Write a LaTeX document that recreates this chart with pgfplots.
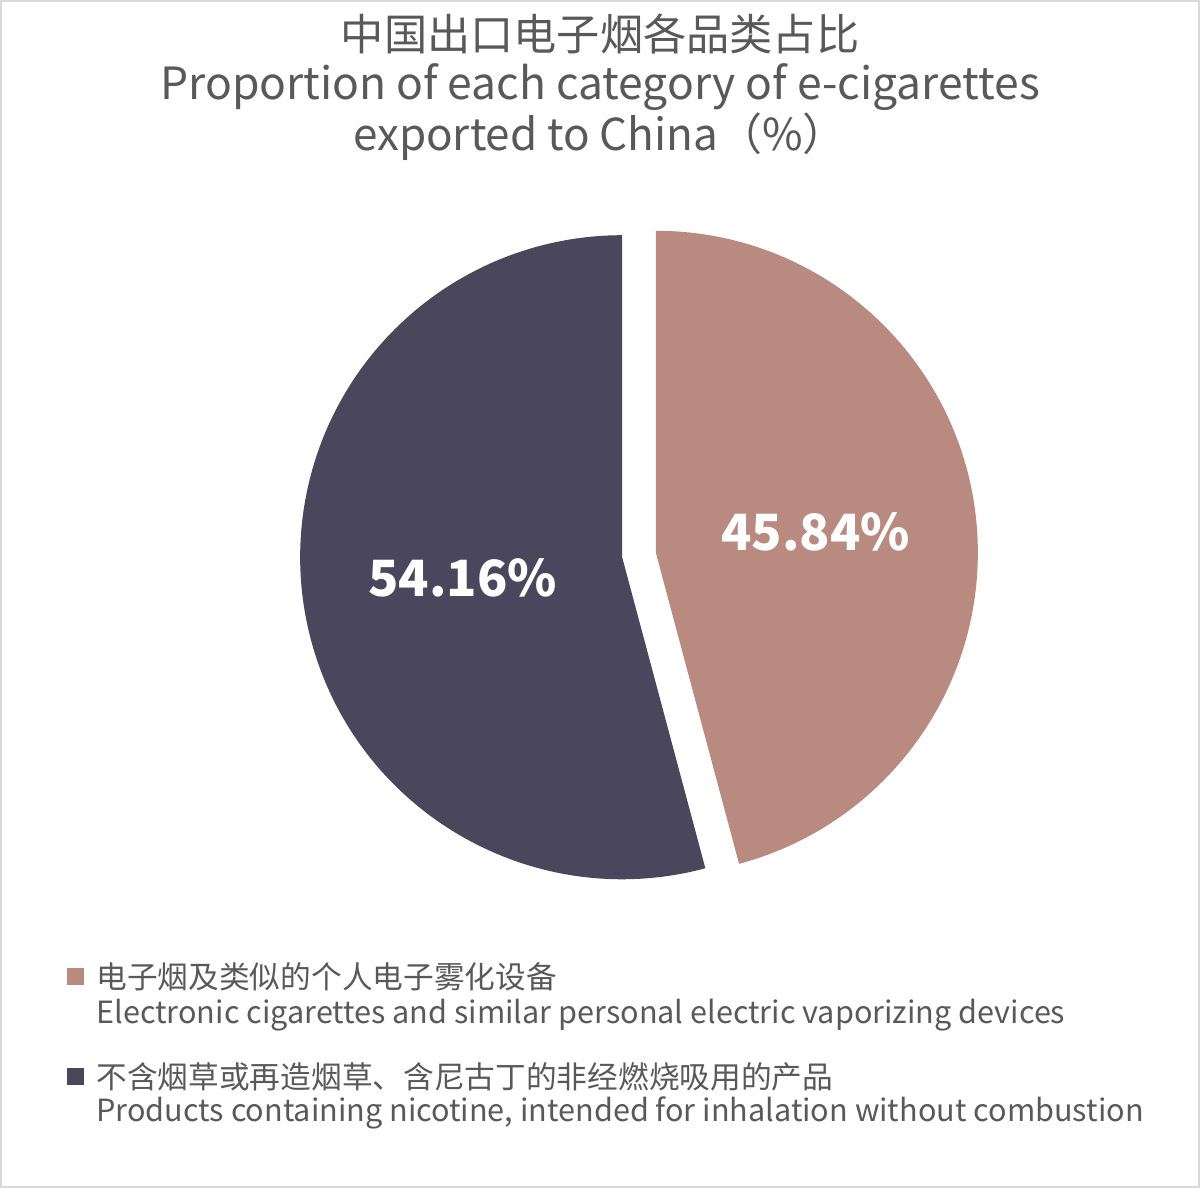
\documentclass[border=0pt]{standalone}
\usepackage{pgfplots}
\pgfplotsset{compat=1.18}
\usepackage{pgfplotstable}
\usepackage{fontspec}
\usetikzlibrary{calc}
\setmainfont{Noto Sans CJK SC}

\definecolor{slicepink}{HTML}{B98A80}
\definecolor{slicedark}{HTML}{4A465B}
\definecolor{txtgray}{HTML}{595959}
\definecolor{framegray}{HTML}{D9D9D9}

% share of each category (%)
\pgfplotstableread{
idx value
0 45.84
1 54.16
}\sharetable

\begin{document}
\begin{tikzpicture}[x=1pt,y=1pt]
\path[use as bounding box] (0,0) rectangle (600,594);
\draw[framegray, line width=1pt] (0.5,0.5) rectangle (599.5,593.5);

% title
\node[txtgray, font=\fontsize{21.6}{24}\selectfont] at (300,577) {中国出口电子烟各品类占比};
\node[txtgray, font=\fontsize{22.2}{24}\selectfont] at (300,550.5) {Proportion of each category of e-cigarettes};
\node[txtgray, font=\fontsize{22}{24}\selectfont] at (300,525.5) {exported to China（\%）};

\pgfplotstablegetelem{0}{value}\of\sharetable \let\valA\pgfplotsretval
\pgfplotstablegetelem{1}{value}\of\sharetable \let\valB\pgfplotsretval
\pgfmathsetmacro\angA{90-3.6*\valA}
\pgfmathsetmacro\midA{90-1.8*\valA}
\pgfmathsetmacro\midB{\angA-1.8*\valB}

\begin{axis}[at={(319.5pt,316.5pt)}, anchor=origin, x=161pt, y=161pt,
  xmin=-1.1, xmax=1.1, ymin=-1.1, ymax=1.1, hide axis, clip=false]
  \fill[slicepink] ($(axis cs:0,0)+(\midA:8.5pt)$) -- ++(90:161pt)
    arc[start angle=90, end angle=\angA, radius=161pt] -- cycle;
  \fill[slicedark] ($(axis cs:0,0)+(\midB:8.5pt)$) -- ++(\angA:161pt)
    arc[start angle=\angA, end angle=-270, radius=161pt] -- cycle;
  \node[white, font=\fontsize{25}{30}\selectfont\bfseries]
    at ($(axis cs:0,0)+(\midA:89pt)$) {\valA\%};
  \node[white, font=\fontsize{25}{30}\selectfont\bfseries]
    at ($(axis cs:0,0)+(\midB:89pt)$) {\valB\%};
\end{axis}

% legend
\fill[slicepink] (33.5,101.25) rectangle (42,109.75);
\fill[slicedark] (33.5,51.25) rectangle (42,59.75);
\node[txtgray, anchor=west, inner sep=0pt, font=\fontsize{15.35}{18}\selectfont] at (48,105.5) {电子烟及类似的个人电子雾化设备};
\node[txtgray, anchor=west, inner sep=0pt, font=\fontsize{15.3}{18}\selectfont] at (48,86.5) {Electronic cigarettes and similar personal electric vaporizing devices};
\node[txtgray, anchor=west, inner sep=0pt, font=\fontsize{15.35}{18}\selectfont] at (48,55.5) {不含烟草或再造烟草、含尼古丁的非经燃烧吸用的产品};
\node[txtgray, anchor=west, inner sep=0pt, font=\fontsize{15.3}{18}\selectfont] at (48,37.5) {Products containing nicotine, intended for inhalation without combustion};
\end{tikzpicture}
\end{document}
